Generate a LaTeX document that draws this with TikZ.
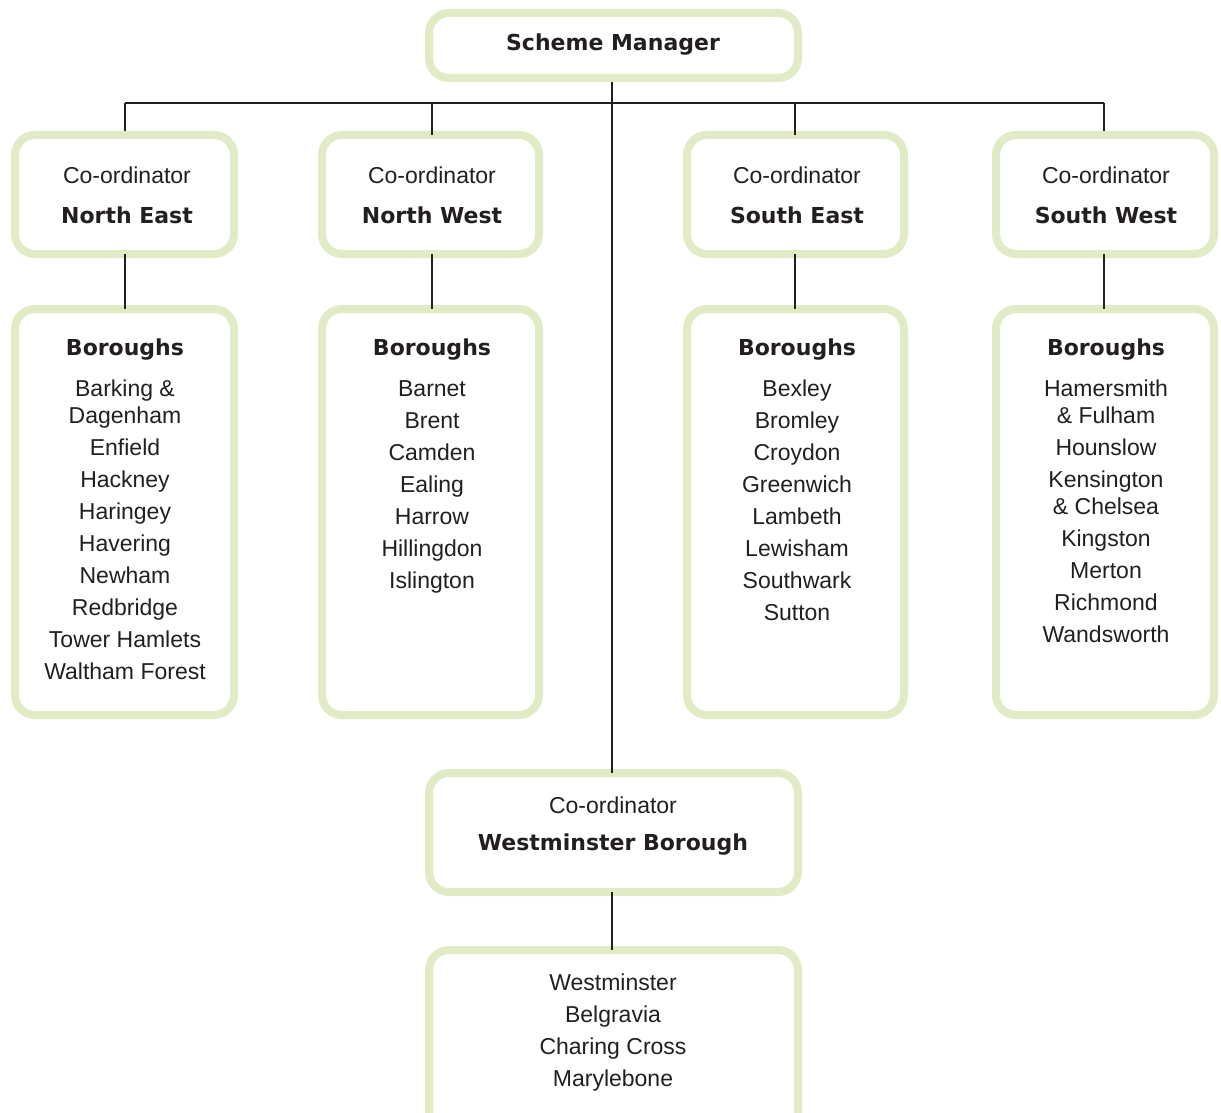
\documentclass[tikz,border=0pt]{standalone}
\usepackage{fontspec}
\setmainfont{Liberation Sans}
\newfontfamily\heavyfont{DejaVu Sans}
\definecolor{boxgreen}{HTML}{E1EBC5}
\definecolor{ink}{HTML}{231F20}
\begin{document}
\begin{tikzpicture}[x=1pt,y=-1pt,
  panel/.style={draw=boxgreen,line width=8pt,rounded corners=20pt,fill=white,inner sep=0pt},
  wire/.style={draw=ink,line width=2.8pt},
  head/.style={text=ink,font=\heavyfont\bfseries\fontsize{22}{26}\selectfont,inner sep=0pt},
  role/.style={text=ink,font=\fontsize{23}{26}\selectfont,inner sep=0pt},
  listtxt/.style={text=ink,font=\fontsize{23}{32}\selectfont,align=center,inner sep=0pt,anchor=north}
]
\useasboundingbox (0,0) rectangle (1221,1113);
\begin{scope}
\clip (0,0) rectangle (1221,1113);
% boxes
\node[panel,minimum width=369pt,minimum height=65pt] (sm) at (613.5,45.5) {};
\node[panel,minimum width=219pt,minimum height=119pt] (cne) at (124.5,194.5) {};
\node[panel,minimum width=217pt,minimum height=119pt] (cnw) at (430.5,194.5) {};
\node[panel,minimum width=217pt,minimum height=119pt] (cse) at (795.5,194.5) {};
\node[panel,minimum width=218pt,minimum height=119pt] (csw) at (1105,194.5) {};
\node[panel,minimum width=219pt,minimum height=406pt] (bne) at (124.5,512) {};
\node[panel,minimum width=217pt,minimum height=406pt] (bnw) at (430.5,512) {};
\node[panel,minimum width=217pt,minimum height=406pt] (bse) at (795.5,512) {};
\node[panel,minimum width=218pt,minimum height=406pt] (bsw) at (1105,512) {};
\node[panel,minimum width=369pt,minimum height=119pt] (cw) at (613.5,832.5) {};
\node[panel,minimum width=369pt,minimum height=190pt] (bw) at (613.5,1045) {};
\end{scope}
% connectors
\coordinate (jl) at (125,103);
\coordinate (jr) at (1104,103);
\coordinate (smb) at (612,82);
\coordinate (cwt) at (612,773);
\draw[wire] (jl) -- (jr);
\draw[wire] (smb) -- (cwt);
\draw[wire] (jl) -- (jl |- cne.north);
\draw[wire] (432,103) -- (432,135);
\draw[wire] (795,103) -- (795,135);
\draw[wire] (jr) -- (jr |- csw.north);
\draw[wire] (125,254) -- (125,309);
\draw[wire] (432,254) -- (432,309);
\draw[wire] (795,254) -- (795,309);
\draw[wire] (1104,254) -- (1104,309);
\draw[wire] (612,892) -- (612,950);
% texts
\node[head] (tsm) at (613,45) {Scheme Manager};
\node[role] (rne) at (127,175) {Co-ordinator};
\node[head] (hne) at (127,215) {North East};
\node[role] (rnw) at (432,175) {Co-ordinator};
\node[head] (hnw) at (432,215) {North West};
\node[role] (rse) at (797,175) {Co-ordinator};
\node[head] (hse) at (797,215) {South East};
\node[role] (rsw) at (1106,175) {Co-ordinator};
\node[head] (hsw) at (1106,215) {South West};
\node[role] (rw) at (613,805) {Co-ordinator};
\node[head] (hw) at (613,845) {Westminster Borough};
\node[listtxt] (lne) at (125,339) {{\heavyfont\bfseries\fontsize{22}{26}\selectfont Boroughs}\\[9pt]Barking \&\\[-5pt]Dagenham\\Enfield\\Hackney\\Haringey\\Havering\\Newham\\Redbridge\\Tower Hamlets\\Waltham Forest};
\node[listtxt] (lnw) at (432,339) {{\heavyfont\bfseries\fontsize{22}{26}\selectfont Boroughs}\\[9pt]Barnet\\Brent\\Camden\\Ealing\\Harrow\\Hillingdon\\Islington};
\node[listtxt] (lse) at (797,339) {{\heavyfont\bfseries\fontsize{22}{26}\selectfont Boroughs}\\[9pt]Bexley\\Bromley\\Croydon\\Greenwich\\Lambeth\\Lewisham\\Southwark\\Sutton};
\node[listtxt] (lsw) at (1106,339) {{\heavyfont\bfseries\fontsize{22}{26}\selectfont Boroughs}\\[9pt]Hamersmith\\[-5pt]\& Fulham\\Hounslow\\Kensington\\[-5pt]\& Chelsea\\Kingston\\Merton\\Richmond\\Wandsworth};
\node[listtxt] (lw) at (613,974) {Westminster\\Belgravia\\Charing Cross\\Marylebone};
\end{tikzpicture}
\end{document}
